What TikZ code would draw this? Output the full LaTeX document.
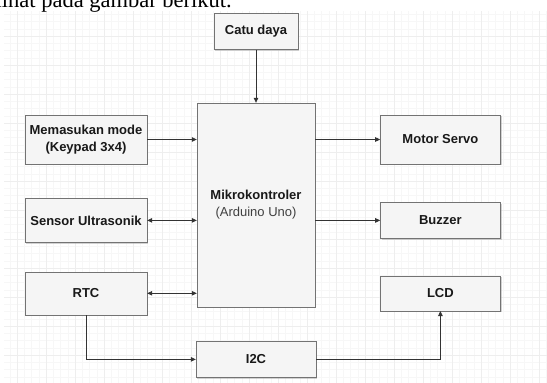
\documentclass[tikz,border=0pt]{standalone}
\usepackage{fontspec}
\setmainfont{Liberation Sans}
\newfontfamily\judulfont{Liberation Serif}
\usetikzlibrary{positioning, arrows.meta, shadows}

\begin{document}
\begin{tikzpicture}[
            x=1pt, y=1pt,
            blok/.style={draw=black!55, fill=gray!8, rectangle, inner sep=0pt, align=center, text=black!90, font=\fontsize{13}{17}\selectfont\bfseries, drop shadow={shadow xshift=1.2pt, shadow yshift=-1.2pt, fill=black!35, opacity=0.5}},
            panah/.style={draw=black!80, line width=0.8pt, -{Triangle[length=5pt, width=4.5pt]}},
            duapanah/.style={panah, {Triangle[length=5pt, width=4.5pt]}-{Triangle[length=5pt, width=4.5pt]}},
            gridhalus/.style={draw=gray!6, line width=0.5pt},
            gridtebal/.style={draw=gray!13, line width=0.7pt}
        ]

        % Latar
        \useasboundingbox (0,0) rectangle (547,-383);
        \fill[white] (0,0) rectangle (547,-383);
        \begin{scope}
            \clip (4,-11) rectangle (547,-383);
            \draw[gridhalus, shift={(17pt,-7pt)}] (-29,29) grid[step=7.25pt] (551,-406);
            \draw[gridtebal, shift={(17pt,-7pt)}] (-29,29) grid[step=29pt] (551,-406);
        \end{scope}
        \node[font=\judulfont\fontsize{22.5}{24}\selectfont, anchor=base east, inner sep=0pt] (judul) at (232,-7.5) {dapat dilihat pada gambar berikut.};

        % Blok
        \node[blok, minimum width=118pt, minimum height=204pt] (mikro) at (256,-205) {Mikrokontroler\\{\mdseries\color{black!75}(Arduino Uno)}};
        \node[blok, minimum width=84pt, minimum height=36pt, above=53pt of mikro] (catu) {Catu daya};
        \node[blok, minimum width=122pt, minimum height=49pt] (mode) at (86,-139.5) {Memasukan mode\\(Keypad 3x4)};
        \node[blok, minimum width=122pt, minimum height=44pt, below=34pt of mode] (sensor) {Sensor Ultrasonik};
        \node[blok, minimum width=122pt, minimum height=43pt, below=29pt of sensor] (rtc) {RTC};
        \node[blok, minimum width=120pt, minimum height=49pt, right=233pt of mode] (servo) {Motor Servo};
        \node[blok, minimum width=120pt, minimum height=36pt, below=38pt of servo] (buzzer) {Buzzer};
        \node[blok, minimum width=120pt, minimum height=35pt, below=37pt of buzzer] (lcd) {LCD};
        \node[blok, minimum width=120pt, minimum height=36pt, below=34pt of mikro] (i2c) {I2C};

        % Panah
        \draw[panah] (catu) -- (mikro);
        \draw[panah] (mode) -- (mode -| mikro.west);
        \draw[panah] (mode -| mikro.east) -- (servo);
        \draw[duapanah] (sensor) -- (sensor -| mikro.west);
        \draw[panah] (buzzer -| mikro.east) -- (buzzer);
        \draw[duapanah] (rtc) -- (rtc -| mikro.west);
        \draw[panah] (rtc) |- (i2c);
        \draw[panah] (i2c) -| (lcd);

    \end{tikzpicture}
\end{document}
